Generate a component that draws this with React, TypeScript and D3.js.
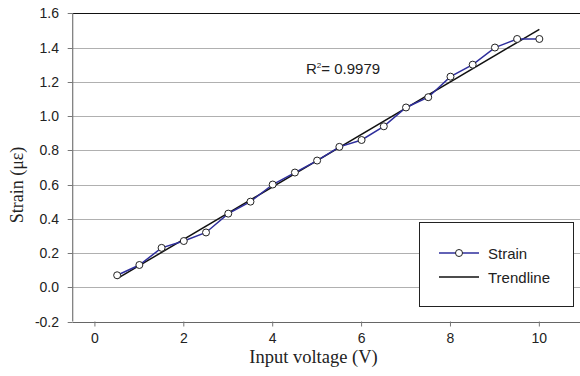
import React from 'react';
import * as d3 from 'd3';

// Data
const voltage = [0.5, 1, 1.5, 2, 2.5, 3, 3.5, 4, 4.5, 5, 5.5, 6, 6.5, 7, 7.5, 8, 8.5, 9, 9.5, 10];
const strain = [0.07, 0.13, 0.23, 0.27, 0.32, 0.43, 0.5, 0.6, 0.67, 0.74, 0.82, 0.86, 0.94, 1.05, 1.11, 1.23, 1.3, 1.4, 1.45, 1.45];
const xTicks = [0, 2, 4, 6, 8, 10];
const yTicks = [-0.2, 0, 0.2, 0.4, 0.6, 0.8, 1.0, 1.2, 1.4, 1.6];
const rSquared = '0.9979';

const W = 580;
const H = 376;

const App = () => {
  const x = d3.scaleLinear().domain([-0.5, 11]).range([72.7, 583.8]);
  const y = d3.scaleLinear().domain([-0.2, 1.6]).range([321.5, 13.3]);

  // least squares trendline
  const mx = d3.mean(voltage)!;
  const my = d3.mean(strain)!;
  const sxy = d3.sum(voltage, (v, i) => (v - mx) * (strain[i] - my));
  const sxx = d3.sum(voltage, v => (v - mx) ** 2);
  const slope = sxy / sxx;
  const icpt = my - slope * mx;
  const xMin = d3.min(voltage)!;
  const xMax = d3.max(voltage)!;

  const pts: [number, number][] = voltage.map((v, i) => [v, strain[i]]);
  const line = d3.line<[number, number]>().x(d => x(d[0])).y(d => y(d[1]));

  const sans = 'Liberation Sans, Arial, sans-serif';
  const serif = 'Liberation Serif, Times New Roman, serif';
  const fmt = (t: number) => t.toFixed(1); // plain hyphen like the original

  const x0 = x(-0.5);
  const yb = y(-0.2);

  return (
    <svg width={W} height={H} style={{ position: 'absolute', left: 0, top: 0, background: '#fff' }}>
      {/* gridlines */}
      {yTicks.map(t => (
        <line key={'g' + t} x1={x0} x2={W} y1={Math.round(y(t)) + 0.5} y2={Math.round(y(t)) + 0.5}
          stroke={t === 1.6 ? '#111' : t === -0.2 ? '#666' : '#b0b0b0'} strokeWidth={1} />
      ))}
      {/* y axis */}
      <line x1={x0} x2={x0} y1={y(1.6)} y2={yb} stroke="#777" strokeWidth={1.2} />
      {yTicks.map(t => (
        <g key={'y' + t}>
          <line x1={x0 - 5} x2={x0} y1={Math.round(y(t)) + 0.5} y2={Math.round(y(t)) + 0.5} stroke="#777" />
          <text x={59} y={y(t)} dy="0.36em" textAnchor="end" fontFamily={sans} fontSize={14} fill="#222">
            {fmt(t)}
          </text>
        </g>
      ))}
      {/* x axis ticks */}
      {xTicks.map(t => (
        <g key={'x' + t}>
          <line x1={x(t)} x2={x(t)} y1={yb} y2={yb + 5} stroke="#777" />
          <text x={x(t)} y={yb + 21} textAnchor="middle" fontFamily={sans} fontSize={14} fill="#222">
            {t}
          </text>
        </g>
      ))}
      {/* trendline */}
      <line x1={x(xMin)} y1={y(slope * xMin + icpt)} x2={x(xMax)} y2={y(slope * xMax + icpt)}
        stroke="#111" strokeWidth={1.5} />
      {/* strain series */}
      <path d={line(pts)!} fill="none" stroke="#2e2e9c" strokeWidth={1.5} />
      {pts.map((p, i) => (
        <circle key={i} cx={x(p[0])} cy={y(p[1])} r={3.5} fill="#fff" stroke="#222" strokeWidth={1} />
      ))}
      {/* R squared */}
      <text x={306} y={73.5} fontFamily={sans} fontSize={15} fill="#222">
        R<tspan fontSize={8} dy={-6}>2</tspan><tspan dy={6}>= {rSquared}</tspan>
      </text>
      {/* legend */}
      <rect x={419.5} y={222.5} width={154} height={84} fill="#fff" stroke="#222" strokeWidth={1} />
      <line x1={439} x2={479} y1={253} y2={253} stroke="#2e2e9c" strokeWidth={1.5} />
      <circle cx={459} cy={253} r={3.5} fill="#fff" stroke="#222" />
      <text x={488} y={258.5} fontFamily={sans} fontSize={15} fill="#222">Strain</text>
      <line x1={439} x2={479} y1={277} y2={277} stroke="#111" strokeWidth={1.5} />
      <text x={488} y={282.5} fontFamily={sans} fontSize={15} fill="#222">Trendline</text>
      {/* axis titles */}
      <text x={313.5} y={363} textAnchor="middle" fontFamily={serif} fontSize={18.5} fill="#222">Input voltage (V)</text>
      <text transform={`translate(23,185) rotate(-90)`} textAnchor="middle" fontFamily={serif} fontSize={18} fill="#222">
        Strain (με)
      </text>
    </svg>
  );
};

export default App;
